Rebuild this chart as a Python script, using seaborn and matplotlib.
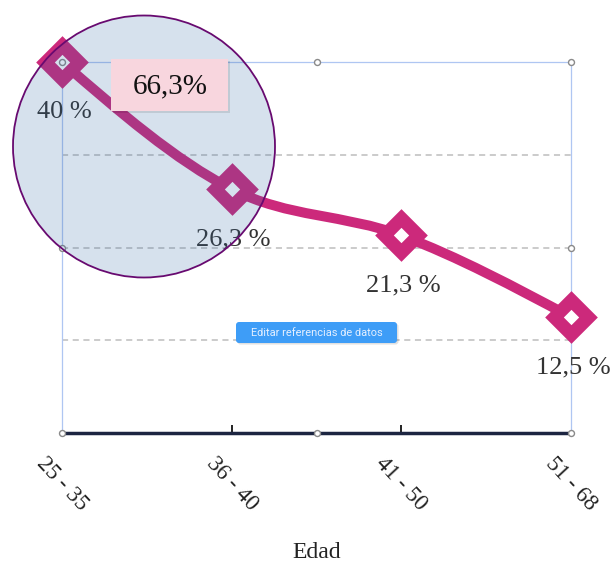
import numpy as np
import pandas as pd
import matplotlib
matplotlib.use("Agg")
import matplotlib.pyplot as plt
import seaborn as sns
from matplotlib.path import Path
from matplotlib.patches import PathPatch, Ellipse, Rectangle, FancyBboxPatch

# ---- data -------------------------------------------------------------
age_groups = ["25 - 35", "36 - 40", "41 - 50", "51 - 68"]
shares = [40.0, 26.3, 21.3, 12.5]          # percent per age group
grid_levels = [10, 20, 30, 40]
axis_title = "Edad"
button_text = "Editar referencias de datos"

MAGENTA = "#CC297B"


def es_pct(v, space=True):
    txt = f"{round(v, 1):g}".replace(".", ",")
    return txt + (" %" if space else "%")


# ---- style ------------------------------------------------------------
sns.set_style("white")
plt.rcParams["font.family"] = ["Liberation Serif", "DejaVu Serif"]

fig = plt.figure(figsize=(6.12, 5.64), dpi=100)
ax = fig.add_axes([62 / 612, 1 - 433 / 564, 509 / 612, 371 / 564])

df = pd.DataFrame({"grupo": age_groups, "pos": np.arange(len(age_groups)), "share": shares})

# monotone cubic curve through the points (Bezier segments)
x = df["pos"].to_numpy(dtype=float)
y = df["share"].to_numpy(dtype=float)
sec = np.diff(y) / np.diff(x)
m = np.empty_like(y)
for i in range(1, len(y) - 1):
    s0, s1 = sec[i - 1], sec[i]
    p = (s0 + s1) / 2
    m[i] = (np.sign(s0) + np.sign(s1)) * min(abs(s0), abs(s1), 0.5 * abs(p))
m[0] = (3 * sec[0] - m[1]) / 2
m[-1] = (3 * sec[-1] - m[-2]) / 2
verts = [(x[0], y[0])]
codes = [Path.MOVETO]
for i in range(len(x) - 1):
    h = (x[i + 1] - x[i]) / 3
    verts += [(x[i] + h, y[i] + m[i] * h),
              (x[i + 1] - h, y[i + 1] - m[i + 1] * h),
              (x[i + 1], y[i + 1])]
    codes += [Path.CURVE4] * 3
ax.add_patch(PathPatch(Path(verts, codes), fill=False, edgecolor=MAGENTA,
                       lw=7.2, capstyle="butt", clip_on=False, zorder=3))

# hollow diamond markers
sns.lineplot(data=df, x="pos", y="share", ax=ax, linestyle="", marker="D",
             markersize=17.5, markeredgewidth=9.5, markerfacecolor="white",
             markeredgecolor=MAGENTA, legend=False, clip_on=False, zorder=4)

# value labels under each point
for xi, v in zip(df["pos"], df["share"]):
    ax.annotate(es_pct(v), (xi, v), xytext=(1.5, -36), textcoords="offset points",
                ha="center", va="center", fontsize=19, color="#333333",
                zorder=5, annotation_clip=False)

# axes and grid
ax.set_xlim(0, len(age_groups) - 1)
ax.set_ylim(0, max(grid_levels))
ax.set_yticks(grid_levels)
ax.set_axisbelow(True)
ax.grid(axis="y", linestyle=(0, (4, 3)), color="#BDBDBD", lw=1.1)
ax.grid(axis="x", visible=False)
ax.tick_params(axis="y", left=False, labelleft=False)
ax.set_ylabel("")

ax.set_xticks(df["pos"])
ax.set_xticklabels(age_groups, rotation=-47, ha="center", va="center",
                   rotation_mode="anchor")
ax.tick_params(axis="x", bottom=True, direction="in", length=5.8, width=1.4,
               color="#222222", pad=36.5, labelsize=16.5, labelcolor="#222222")
ticks = ax.xaxis.get_major_ticks()
ticks[0].tick1line.set_visible(False)
ticks[-1].tick1line.set_visible(False)

ax.set_xlabel(axis_title, fontsize=17, color="#222222", va="center")
ax.xaxis.set_label_coords(0.5, -(552 - 433) / 371)

ax.spines["bottom"].set_color("#1C2541")
ax.spines["bottom"].set_linewidth(2.5)
for side in ("left", "right", "top"):
    ax.spines[side].set_color("#AFC6F2")
    ax.spines[side].set_linewidth(0.9)

# selection handles on the plot frame
ax.plot([0, 0.5, 1, 1, 1, 0.5, 0, 0], [1, 1, 1, 0.5, 0, 0, 0, 0.5],
        transform=ax.transAxes, linestyle="", marker="o", markersize=4.3,
        markerfacecolor="white", markeredgecolor="#8A8A8A", markeredgewidth=1.0,
        clip_on=False, zorder=6)

# "edit data references" button
fig.add_artist(FancyBboxPatch((2.375, 2.195), 1.61, 0.21,
                              boxstyle="round,pad=0,rounding_size=0.03",
                              transform=fig.dpi_scale_trans, fc=(0, 0, 0, 0.12),
                              ec="none", zorder=4))
fig.add_artist(FancyBboxPatch((2.36, 2.21), 1.61, 0.21,
                              boxstyle="round,pad=0,rounding_size=0.03",
                              transform=fig.dpi_scale_trans, fc="#3E9DF7",
                              ec="none", zorder=5))
fig.text(316.5 / 612, 1 - 332.5 / 564, button_text, ha="center", va="center",
         fontsize=7.9, color="#E4EFFF", family=["Roboto", "DejaVu Sans"], zorder=6)

# highlight circle around the first two groups
fig.add_artist(Ellipse((144 / 612, 1 - 146.5 / 564), 262 / 612, 262 / 564,
                       transform=fig.transFigure, fc=(50 / 255, 105 / 255, 165 / 255, 0.2),
                       ec="none", zorder=10))
fig.add_artist(Ellipse((144 / 612, 1 - 146.5 / 564), 262 / 612, 262 / 564,
                       transform=fig.transFigure, fc="none", ec="#680A70",
                       lw=1.3, zorder=11))

# combined share callout
combined = shares[0] + shares[1]
fig.add_artist(Rectangle((113 / 612, 1 - 113 / 564), 117 / 612, 52 / 564,
                         transform=fig.transFigure, fc=(0, 0, 0, 0.10), ec="none",
                         zorder=12))
fig.add_artist(Rectangle((111 / 612, 1 - 111 / 564), 117 / 612, 52 / 564,
                         transform=fig.transFigure, fc="#F8D6DE", ec="none",
                         zorder=13))
fig.text(170 / 612, 1 - 86 / 564, es_pct(combined, space=False), ha="center",
         va="center", fontsize=21, color="#111111", zorder=14)

fig.savefig("out.png", dpi=100)
